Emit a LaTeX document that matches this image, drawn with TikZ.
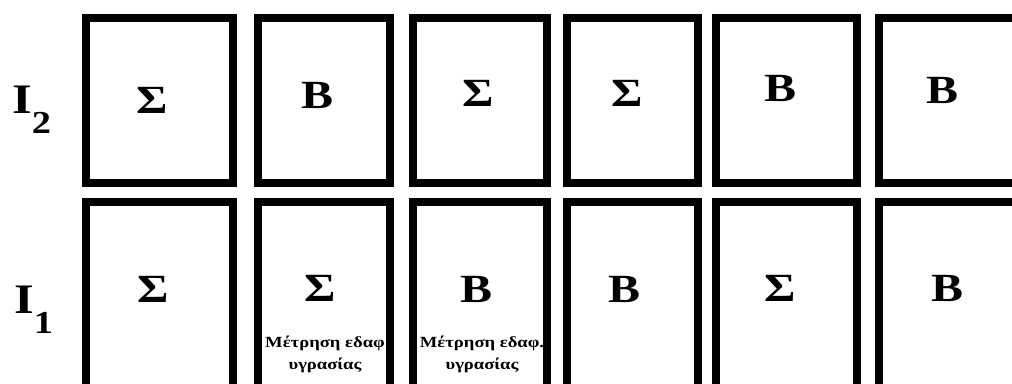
\documentclass[tikz,border=0pt]{standalone}
\usepackage{fontspec}
\setmainfont{Liberation Serif}[FakeStretch=1.2]
\usetikzlibrary{positioning}

\begin{document}
\begin{tikzpicture}[
  x=1pt, y=-1pt,
  cell/.style={draw, line width=8pt, inner sep=0pt},
  sym/.style={font=\fontsize{40}{40}\selectfont\bfseries, inner sep=0pt},
  note/.style={align=center, inner sep=0pt, font=\fontsize{15.5}{22}\selectfont\bfseries},
  rowlab/.style={anchor=base west, inner sep=0pt, font=\fontsize{42}{42}\selectfont\bfseries},
]
\useasboundingbox (0,0) rectangle (1012,383);
\clip (0,0) rectangle (1012,383);

% upper row
\node[cell, minimum width=147pt, minimum height=165pt] (up1) at (159.5,100.5) {};
\node[cell, minimum width=132pt, minimum height=165pt] (up2) at (324,100.5) {};
\node[cell, minimum width=134pt, minimum height=165pt] (up3) at (480,100.5) {};
\node[cell, minimum width=131pt, minimum height=165pt] (up4) at (632.5,100.5) {};
\node[cell, minimum width=141pt, minimum height=165pt] (up5) at (786.5,100.5) {};
\node[cell, minimum width=151pt, minimum height=165pt] (up6) at (954.5,100.5) {};

% lower row
\node[cell, minimum width=147pt, minimum height=198pt] (lo1) at (159.5,301) {};
\node[cell, minimum width=132pt, minimum height=198pt] (lo2) at (324,301) {};
\node[cell, minimum width=134pt, minimum height=198pt] (lo3) at (480,301) {};
\node[cell, minimum width=131pt, minimum height=198pt] (lo4) at (632.5,301) {};
\node[cell, minimum width=141pt, minimum height=198pt] (lo5) at (786.5,301) {};
\node[cell, minimum width=151pt, minimum height=198pt] (lo6) at (954.5,301) {};

% row labels
\node[rowlab] (labtwo) at (12,113) {I\raisebox{-20pt}{\fontsize{32}{32}\selectfont 2}};
\node[rowlab] (labone) at (14,313) {I\raisebox{-20pt}{\fontsize{32}{32}\selectfont 1}};

% cell letters
\node[sym] (up1s) at (152,100) {Σ};
\node[sym] (up2s) at (318,95) {Β};
\node[sym] (up3s) at (478,93) {Σ};
\node[sym] (up4s) at (627,93) {Σ};
\node[sym] (up5s) at (780,88) {Β};
\node[sym] (up6s) at (942,90) {Β};

\node[sym] (lo1s) at (153,289) {Σ};
\node[sym] (lo2s) at (320,288) {Σ};
\node[sym] (lo3s) at (477,289) {Β};
\node[sym] (lo4s) at (625,289) {Β};
\node[sym] (lo5s) at (780,288) {Σ};
\node[sym] (lo6s) at (947,288) {Β};

% notes
\node[note] (lo2n) at (325,354) {Μέτρηση εδαφ\\υγρασίας};
\node[note] (lo3n) at (482,354) {Μέτρηση εδαφ.\\υγρασίας};
\end{tikzpicture}
\end{document}
